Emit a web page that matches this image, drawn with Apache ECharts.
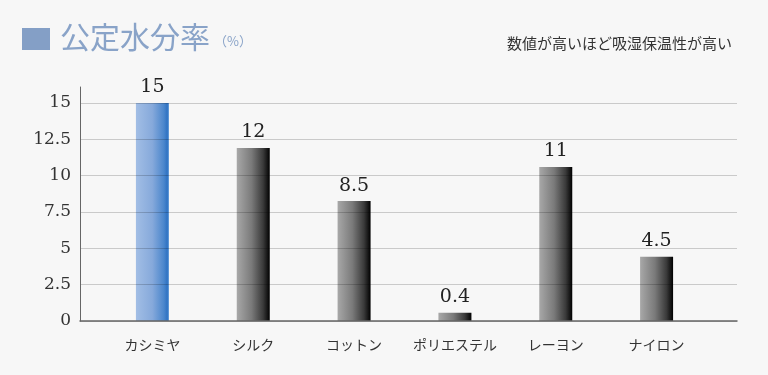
<!DOCTYPE html>
<html><head><meta charset="utf-8">
<script src="https://cdn.jsdelivr.net/npm/echarts@6/dist/echarts.min.js"></script>
<style>html,body{margin:0;padding:0;background:#f7f7f7}#c{width:768px;height:375px}</style>
</head><body><div id="c"></div>
<script>
const categories = ['カシミヤ', 'シルク', 'コットン', 'ポリエステル', 'レーヨン', 'ナイロン'];
const values = [15, 11.9, 8.25, 0.57, 10.6, 4.42];
const valueLabels = ['15', '12', '8.5', '0.4', '11', '4.5'];
const titleText = '公定水分率';
const unitText = '（%）';
const noteText = '数値が高いほど吸湿保温性が高い';
const highlightIndex = 0;

const yMin = 0, yMax = 16.1, yInterval = 2.5;
const serif = 'DejaVu Serif';
const jp = 'Noto Sans CJK JP';

const greyGrad = { type: 'linear', x: 0, y: 0, x2: 1, y2: 0, colorStops: [
  { offset: 0, color: '#a8a8a8' }, { offset: 0.45, color: '#7a7a7a' },
  { offset: 0.8, color: '#3a3a3a' }, { offset: 0.93, color: '#151515' }, { offset: 1, color: '#000' }] };
const blueGrad = { type: 'linear', x: 0, y: 0, x2: 1, y2: 0, colorStops: [
  { offset: 0, color: '#a2bee5' }, { offset: 0.5, color: '#86a9db' },
  { offset: 0.85, color: '#4a86cc' }, { offset: 0.95, color: '#2f72c2' }, { offset: 1, color: '#5a97d8' }] };

const chart = echarts.init(document.getElementById('c'), null, { renderer: 'canvas' });
chart.setOption({
  backgroundColor: '#f7f7f7',
  animation: false,
  graphic: [
    { type: 'rect', left: 22, top: 28, shape: { width: 28, height: 22 }, style: { fill: '#849fc6' } },
    { type: 'text', left: 60, top: 22, style: { text: titleText, font: '30px "Noto Sans CJK JP"', fill: '#89a3c8' } },
    { type: 'text', left: 214, top: 35, style: { text: unitText, font: '13px "Noto Sans CJK JP"', fill: '#89a3c8' } },
    { type: 'text', right: 36, top: 36, style: { text: noteText, font: '15px "Noto Sans CJK JP"', fill: '#333' } }
  ],
  grid: [
    { left: 102, right: 61, top: 87, bottom: 54 },
    { left: 80, right: 31, top: 87, bottom: 54 }
  ],
  xAxis: [
    { type: 'category', gridIndex: 0, data: categories,
      axisLine: { show: false }, axisTick: { show: false },
      axisLabel: { interval: 0, margin: 17, color: '#333', fontFamily: jp, fontSize: 14 } },
    { type: 'value', gridIndex: 1, min: 0, max: 1, z: 5,
      axisLine: { show: true, lineStyle: { color: '#666', width: 1.5 } },
      axisTick: { show: false }, axisLabel: { show: false }, splitLine: { show: false } }
  ],
  yAxis: [
    { type: 'value', gridIndex: 0, min: yMin, max: yMax, interval: yInterval,
      axisLine: { show: false }, axisTick: { show: false }, axisLabel: { show: false }, splitLine: { show: false } },
    { type: 'value', gridIndex: 1, min: yMin, max: yMax, interval: yInterval, z: 5,
      axisLine: { show: true, lineStyle: { color: '#666', width: 1 } },
      axisTick: { show: false },
      axisLabel: { margin: 9, color: '#333', fontFamily: serif, fontSize: 17, showMaxLabel: false },
      splitLine: { show: true, showMaxLine: false, lineStyle: { color: 'rgba(0,0,0,0.18)', width: 1 } } }
  ],
  series: [{
    type: 'bar', xAxisIndex: 0, yAxisIndex: 0, barWidth: 33,
    data: values.map((v, i) => ({ value: v, itemStyle: { color: i === highlightIndex ? blueGrad : greyGrad } })),
    label: { show: true, position: 'top', distance: 6, color: '#222', fontFamily: serif, fontSize: 19,
      formatter: p => valueLabels[p.dataIndex] }
  }]
});
</script></body></html>
